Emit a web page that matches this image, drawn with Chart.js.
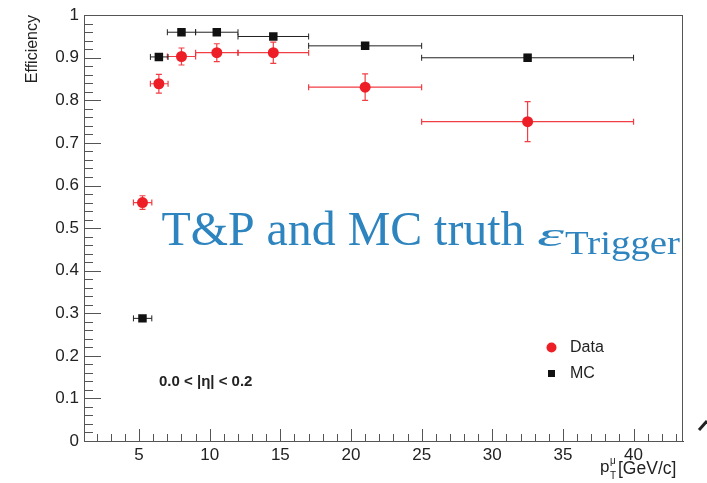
<!DOCTYPE html>
<html><head><meta charset="utf-8">
<script src="https://cdn.jsdelivr.net/npm/chart.js@4/dist/chart.umd.min.js"></script>
<style>html,body{margin:0;padding:0;background:#fff}#wrap{width:707px;height:483px}</style>
</head><body><div id="wrap"><canvas id="c" width="707" height="483"></canvas></div>
<script>
// ---- data ----
const ptCenter = [5.24, 6.4, 8.0, 10.5, 14.5, 21.0, 32.5];
const ptLow    = [4.6, 5.8, 7.0, 9.0, 12.0, 17.0, 25.0];
const ptHigh   = [5.9, 7.05, 9.0, 12.0, 17.0, 25.0, 40.0];
const dataEff  = [0.560, 0.839, 0.903, 0.912, 0.912, 0.831, 0.750];
const dataErr  = [0.016, 0.022, 0.020, 0.021, 0.025, 0.031, 0.047];
const mcEff    = [0.288, 0.902, 0.960, 0.960, 0.950, 0.928, 0.900];
const mcErr    = [0.004, 0.003, 0.003, 0.003, 0.003, 0.004, 0.008];
const xTickValues = [5, 10, 15, 20, 25, 30, 35, 40];
const yTickValues = [0, 0.1, 0.2, 0.3, 0.4, 0.5, 0.6, 0.7, 0.8, 0.9, 1];
const yTickLabels = ["0", "0.1", "0.2", "0.3", "0.4", "0.5", "0.6", "0.7", "0.8", "0.9", "1"];
const seriesNames = ["Data", "MC"];

const SANS = "'Liberation Sans', Arial, Helvetica, sans-serif";
const SERIF = "'Liberation Serif', 'Times New Roman', serif";
const RED = 'rgb(238,30,38)';
const BLK = '#111';

const toPts = (ys) => ptCenter.map((x, i) => ({x: x, y: ys[i]}));

const errorBars = {
  id: 'errorBars',
  beforeDatasetsDraw(chart) {
    const ctx = chart.ctx, xs = chart.scales.x, ys = chart.scales.y;
    chart.data.datasets.forEach((ds) => {
      ctx.save();
      ctx.strokeStyle = ds.errColor;
      ctx.lineWidth = ds.errWidth;
      ds.data.forEach((p, i) => {
        const cx = xs.getPixelForValue(p.x), cy = ys.getPixelForValue(p.y);
        const x1 = xs.getPixelForValue(ptLow[i]), x2 = xs.getPixelForValue(ptHigh[i]);
        const y1 = ys.getPixelForValue(p.y + ds.err[i]), y2 = ys.getPixelForValue(p.y - ds.err[i]);
        ctx.beginPath();
        ctx.moveTo(x1, cy); ctx.lineTo(x2, cy);
        ctx.moveTo(x1, cy - 3); ctx.lineTo(x1, cy + 3);
        ctx.moveTo(x2, cy - 3); ctx.lineTo(x2, cy + 3);
        ctx.moveTo(cx, y1); ctx.lineTo(cx, y2);
        ctx.moveTo(cx - 3, y1); ctx.lineTo(cx + 3, y1);
        ctx.moveTo(cx - 3, y2); ctx.lineTo(cx + 3, y2);
        ctx.stroke();
      });
      ctx.restore();
    });
  }
};

const decorations = {
  id: 'decorations',
  afterDatasetsDraw(chart) {
    const ctx = chart.ctx;
    // big overlay caption
    ctx.save();
    ctx.fillStyle = '#2d84bf';
    ctx.textBaseline = 'alphabetic';
    ctx.textAlign = 'left';
    ctx.font = '48px ' + SERIF;
    const main = 'T&P and MC truth';
    let w = ctx.measureText(main).width;
    ctx.save(); ctx.translate(161.5, 245); ctx.scale(363 / w, 1); ctx.fillText(main, 0, 0); ctx.restore();
    ctx.font = 'italic 34px ' + SERIF;
    w = ctx.measureText('ε').width;
    ctx.save(); ctx.translate(537, 246); ctx.scale(27 / w, 1); ctx.fillText('ε', 0, 0); ctx.restore();
    ctx.font = '34px ' + SERIF;
    w = ctx.measureText('Trigger').width;
    ctx.save(); ctx.translate(565, 254); ctx.scale(115 / w, 1); ctx.fillText('Trigger', 0, 0); ctx.restore();
    ctx.restore();
  },
  afterDraw(chart) {
    const ctx = chart.ctx, xs = chart.scales.x, ys = chart.scales.y, a = chart.chartArea;
    ctx.save();
    // frame
    ctx.strokeStyle = '#555';
    ctx.lineWidth = 1;
    ctx.strokeRect(Math.round(a.left) + 0.5, Math.round(a.top) + 0.5, Math.round(a.right - a.left) - 1, Math.round(a.bottom - a.top));
    // inward ticks
    ctx.strokeStyle = '#555';
    ctx.beginPath();
    for (let v = 2; v <= 43; v++) {
      const px = Math.round(xs.getPixelForValue(v)) + 0.5;
      const len = (v % 5 === 0) ? 12 : 7;
      ctx.moveTo(px, a.bottom); ctx.lineTo(px, a.bottom - len);
    }
    for (let k = 1; k < 50; k++) {
      const v = k * 0.02;
      const py = Math.round(ys.getPixelForValue(v)) + 0.5;
      const len = (k % 5 === 0) ? 17 : 9;
      ctx.moveTo(a.left, py); ctx.lineTo(a.left + len, py);
    }
    ctx.stroke();

    // legend
    const dsets = chart.data.datasets;
    ctx.fillStyle = dsets[0].pointBackgroundColor;
    ctx.beginPath(); ctx.arc(551.5, 347.5, 5, 0, Math.PI * 2); ctx.fill();
    ctx.fillStyle = dsets[1].pointBackgroundColor;
    ctx.fillRect(548, 370, 7, 7);
    ctx.fillStyle = '#222';
    ctx.font = '16px ' + SANS;
    ctx.textBaseline = 'middle';
    ctx.textAlign = 'left';
    ctx.fillText(seriesNames[0], 570, 348);
    ctx.fillText(seriesNames[1], 570, 374);

    // eta label
    ctx.font = 'bold 15px ' + SANS;
    ctx.fillText('0.0 < |η| < 0.2', 159, 382);

    // y axis title
    ctx.save();
    ctx.translate(33, 15);
    ctx.rotate(-Math.PI / 2);
    ctx.font = '16px ' + SANS;
    ctx.textAlign = 'right';
    ctx.textBaseline = 'middle';
    ctx.fillText('Efficiency', 0, 0);
    ctx.restore();

    // x axis title
    ctx.textBaseline = 'alphabetic';
    ctx.font = '17px ' + SANS;
    ctx.fillText('p', 600, 472);
    ctx.font = '10px ' + SANS;
    ctx.fillText('μ', 610, 464);
    ctx.fillText('T', 610, 479);
    ctx.font = '17.5px ' + SANS;
    ctx.fillText('[GeV/c]', 618, 474);

    // small stray mark at the bottom right edge
    ctx.strokeStyle = '#222';
    ctx.lineWidth = 3;
    ctx.beginPath(); ctx.moveTo(699, 430); ctx.lineTo(707, 421); ctx.stroke();
    ctx.restore();
  }
};

new Chart(document.getElementById('c'), {
  type: 'scatter',
  data: {
    datasets: [
      {
        label: seriesNames[0], data: toPts(dataEff), err: dataErr, errColor: 'rgba(240,40,48,0.9)', errWidth: 1.2,
        pointStyle: 'circle', pointRadius: 5.5, pointBackgroundColor: RED, pointBorderColor: RED, pointBorderWidth: 0,
        showLine: false
      },
      {
        label: seriesNames[1], data: toPts(mcEff), err: mcErr, errColor: '#222', errWidth: 1,
        pointStyle: 'rect', pointRadius: 6, pointBackgroundColor: BLK, pointBorderColor: BLK, pointBorderWidth: 0,
        showLine: false
      }
    ]
  },
  options: {
    responsive: false,
    animation: false,
    devicePixelRatio: 1,
    layout: { padding: { top: 13, right: 24, left: 0, bottom: 0 } },
    plugins: { legend: { display: false }, tooltip: { enabled: false } },
    scales: {
      x: {
        type: 'linear', min: 1.1, max: 43.5,
        grid: { display: false, drawTicks: false },
        border: { display: true, color: '#444', width: 1 },
        afterBuildTicks: (s) => { s.ticks = xTickValues.map(v => ({ value: v })); },
        afterFit: (s) => { s.height = 42; },
        ticks: { color: '#222', font: { family: SANS, size: 17 }, padding: 4, autoSkip: false, maxRotation: 0,
                 callback: (v) => String(v) }
      },
      y: {
        type: 'linear', min: 0, max: 1,
        grid: { display: false, drawTicks: false },
        border: { display: true, color: '#444', width: 1 },
        afterBuildTicks: (s) => { s.ticks = yTickValues.map(v => ({ value: v })); },
        afterFit: (s) => { s.width = 84; },
        ticks: { color: '#222', font: { family: SANS, size: 17 }, padding: 5, autoSkip: false,
                 callback: (v, i) => yTickLabels[i] }
      }
    }
  },
  plugins: [errorBars, decorations]
});
</script>
</body></html>
